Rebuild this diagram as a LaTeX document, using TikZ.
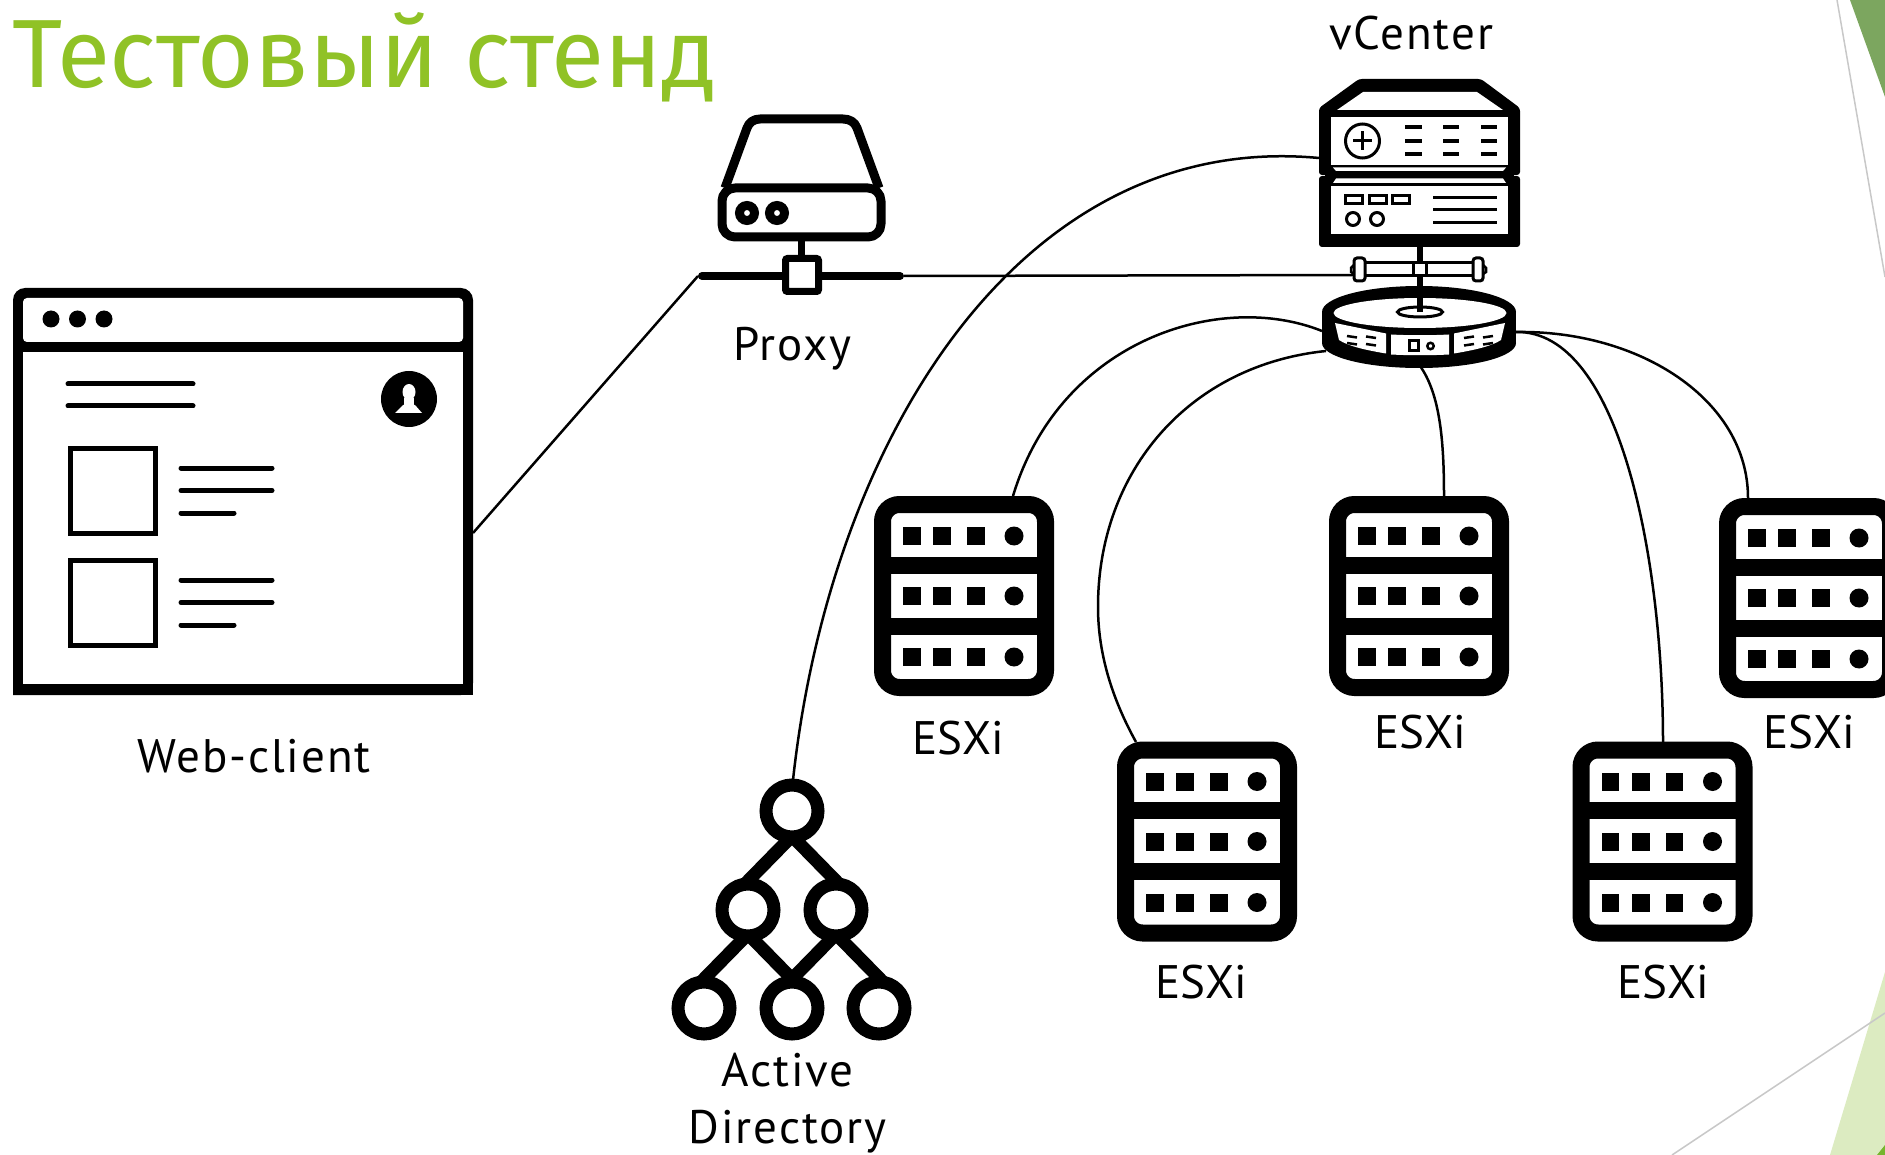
\documentclass[tikz,border=0pt]{standalone}
\usepackage{fontspec}
\setmainfont{PT Sans}
\newfontfamily\titlefont{Fira Sans}
\newfontfamily\spacedfont[LetterSpace=4]{PT Sans}
\definecolor{titlegreen}{HTML}{90C226}
\definecolor{darkgreen}{HTML}{7CA65F}
\definecolor{palegreen}{HTML}{DCEBC1}
\definecolor{cornergreen}{HTML}{76B52E}
\definecolor{rulegray}{HTML}{C8C8C8}
\tikzset{
  lbl/.style={inner sep=0pt,anchor=base,font=\fontsize{47}{47}\selectfont,text=black},
  slbl/.style={inner sep=0pt,anchor=base,font=\spacedfont\fontsize{47}{47}\selectfont,text=black},
  conn/.style={line width=2.5pt,black},
  heavy/.style={line width=10pt,black}
}
\newcommand{\esxi}[3]{%
  \begin{scope}[shift={(#1,#2)}]
    \coordinate (#3) at (0,0);
    \draw[line width=17pt,black,fill=white,rounded corners=17pt] (-81.5,-91.5) rectangle (81.5,91.5);
    \draw[line width=17pt] (-85,-31) -- (85,-31) (-85,30) -- (85,30);
    \foreach \yy in {-60,0,61}{
      \fill (-61,\yy-9) rectangle ++(17.5,18);
      \fill (-31,\yy-9) rectangle ++(18,18);
      \fill (3,\yy-9) rectangle ++(17.5,18);
      \fill (50,\yy) circle (9.5);
    }
  \end{scope}}
\begin{document}
\begin{tikzpicture}[x=1pt,y=-1pt]
\useasboundingbox (0,0) rectangle (1885,1155);
\clip (0,0) rectangle (1885,1155);
% slide decoration
\fill[palegreen] (1885,972) -- (1885,1155) -- (1830,1155) -- cycle;
\fill[cornergreen] (1885,1145) -- (1885,1155) -- (1877,1155) -- cycle;
\draw[rulegray,line width=1.5pt] (1672,1155) -- (1885,1013);
\fill[darkgreen] (1850,0) -- (1885,0) -- (1885,97) -- cycle;
\draw[rulegray,line width=1.5pt] (1837,0) -- (1885,277);
% title
\node[inner sep=0pt,anchor=base west,text=titlegreen,font=\titlefont\fontsize{97}{97}\selectfont,draw=none] (title) at (12,88) {Тестовый стенд};
% browser
\fill[rounded corners=12pt] (13,695) -- (13,288) -- (473,288) -- (473,695) [sharp corners] -- cycle;
\fill (13,600) rectangle (473,695);
\fill[white,rounded corners=4pt] (23,342) -- (23,298) -- (463,298) -- (463,342) -- cycle;
\fill[white] (23,352) rectangle (463,684);
\foreach \xx in {51,77.5,104} \fill (\xx,319) circle (8.5);
\draw[line width=5pt,line cap=round] (68,384) -- (193,384) (68,406) -- (193,406);
\fill (409,399) circle (28);
\fill[white] (409,392) ellipse (6.5 and 8);
\fill[white] (404,398) rectangle (414,406);
\fill[white] (395,413) -- (403,405) -- (415,405) -- (422,413) -- cycle;
\foreach \yy in {0,112}{
  \begin{scope}[yshift=-\yy pt]
    \draw[line width=5pt] (70,448.5) rectangle (155,533.5);
    \draw[line width=5pt,line cap=round] (181,468) -- (272,468) (181,490.5) -- (272,490.5) (181,513) -- (234,513);
  \end{scope}}
\coordinate (browserR) at (473,533);
% proxy
\draw[line width=9pt,rounded corners=13pt,line join=round] (722,188) -- (722,237) -- (881,237) -- (881,188) -- cycle;
\draw[line width=9pt,line join=round] (725,188) -- (747,128) to[out=70,in=180] (760,119) -- (843,119) to[out=0,in=110] (857,128) -- (879,188);
\draw[line width=9pt] (747,213) circle (7.5) (777,213) circle (7.5);
\draw[line width=7pt] (801,237) -- (801,258);
\draw[line width=8pt,line cap=round] (702,276) -- (900,276);
\draw[line width=7pt,fill=white,rounded corners=2pt] (785.5,258.5) rectangle (818.5,291.5);
\coordinate (barL) at (698,276);
\coordinate (barR) at (904,276);
% vCenter stack
\fill[rounded corners=3pt] (1319,108) -- (1359,79) -- (1481,79) -- (1520,108) -- (1520,175) -- (1319,175) -- cycle;
\fill[rounded corners=3pt] (1319,176) rectangle (1520,247);
\fill (1325,170) rectangle (1514,182);
\fill[white] (1337,110) -- (1363,92) -- (1477,92) -- (1503,110) -- cycle;
\fill[white] (1331,117) rectangle (1508,165);
\fill[white] (1333,167.5) -- (1506,167.5) -- (1503,171) -- (1336,171) -- cycle;
\fill[white] (1336,178.5) -- (1503,178.5) -- (1506,183) -- (1333,183) -- cycle;
\fill[white] (1331,186) rectangle (1508,234);
\draw[line width=3pt] (1362.5,141) circle (17);
\draw[line width=3pt] (1353,141) -- (1372,141) (1362.5,131.5) -- (1362.5,150.5);
\foreach \yy in {127,141,154}
  \draw[line width=3.5pt] (1405,\yy) -- (1422,\yy) (1443,\yy) -- (1459,\yy) (1481,\yy) -- (1497,\yy);
\draw[line width=3pt] (1345,196) rectangle (1362,204) (1369,196) rectangle (1386,204) (1392,196) rectangle (1409,204);
\draw[line width=3pt] (1353,219) circle (6.5) (1377,219) circle (6.5);
\draw[line width=3pt] (1433,198) -- (1497,198) (1433,210) -- (1497,210) (1433,223) -- (1497,223);
% stem and tube
\draw[line width=6pt] (1420,247) -- (1420,312);
\draw[line width=3pt,fill=white] (1363,263) rectangle (1475,276);
\draw[line width=3pt,fill=white,rounded corners=3pt] (1354,258) rectangle (1365,281);
\draw[line width=3pt,fill=white,rounded corners=3pt] (1473,258) rectangle (1483,281);
\draw[line width=2.5pt] (1354,265) -- (1351,268) -- (1351,272) -- (1354,274) (1483,265) -- (1486,268) -- (1486,272) -- (1483,274);
\draw[line width=3pt,fill=white] (1413.5,263) rectangle (1426,276);
% vCenter disk
\fill (1419,312) ellipse (97 and 26);
\fill (1419,343) ellipse (97 and 25);
\fill (1322,312) rectangle (1516,343);
\fill[white] (1420,313) ellipse (86.5 and 15);
\fill[white] (1335,323) -- (1386,333.5) -- (1386,353.5) .. controls (1365,350) and (1348,346) .. (1339,340) -- cycle;
\fill[white] (1391,334.5) .. controls (1410,335.5) and (1430,335.5) .. (1449,334.5) -- (1449,354.5) .. controls (1430,355.5) and (1410,355.5) .. (1391,354.5) -- cycle;
\fill[white] (1505,323) -- (1454,333.5) -- (1454,353.5) .. controls (1475,350) and (1492,346) .. (1501,340) -- cycle;
\draw[line width=3pt] (1420,312) ellipse (22.5 and 5);
\draw[line width=6pt] (1420,290) -- (1420,312);
\draw[line width=2.5pt] (1347,336) -- (1357,337.5) (1347,343) -- (1357,344.5) (1366,336.5) -- (1376,338) (1366,344) -- (1376,345.5);
\draw[line width=2.5pt] (1493,336) -- (1483,337.5) (1493,343) -- (1483,344.5) (1474,336.5) -- (1464,338) (1474,344) -- (1464,345.5);
\draw[line width=3pt] (1409.5,340.5) rectangle (1418.5,350.5);
\draw[line width=2.5pt] (1430.5,346) circle (3.2);
\coordinate (tubeL) at (1353,275);
\coordinate (vcL) at (1319,158);
\coordinate (diskA) at (1322,331);
\coordinate (diskB) at (1326,351);
\coordinate (diskC) at (1417,362);
\coordinate (diskD) at (1516,332);
% servers
\esxi{964}{596}{esxA}
\esxi{1207}{841.5}{esxB}
\esxi{1419}{596}{esxC}
\esxi{1662.5}{841.5}{esxD}
\esxi{1809}{598}{esxE}
\coordinate (esxAt) at (1013,496);
\coordinate (esxBt) at (1136,742);
\coordinate (esxCt) at (1444,496);
\coordinate (esxDt) at (1663,742);
\coordinate (esxEt) at (1748,498);
% AD tree
\draw[line width=13pt] (792,836) -- (745,884) (792,836) -- (839,884);
\draw[line width=13pt] (748,934) -- (701,982) (748,934) -- (795,982) (836,934) -- (789,982) (836,934) -- (883,982);
\draw[line width=13pt,fill=white] (792,811) circle (26);
\draw[line width=13pt,fill=white] (748,910) circle (26);
\draw[line width=13pt,fill=white] (836,910) circle (26);
\draw[line width=13pt,fill=white] (704,1008) circle (26);
\draw[line width=13pt,fill=white] (792,1008) circle (26);
\draw[line width=13pt,fill=white] (879,1008) circle (26);
\coordinate (adT) at (793,780);
% connectors
\draw[conn] (browserR) -- (barL);
\draw[conn] (barR) -- (tubeL);
\draw[conn] (adT) .. controls (830,440) and (1020,130) .. (vcL);
\draw[conn] (esxAt) .. controls (1060,340) and (1220,290) .. (diskA);
\draw[conn] (esxBt) .. controls (1110,695) and (1098,650) .. (1098,607) .. controls (1098,470) and (1190,365) .. (diskB);
\draw[conn] (diskC) .. controls (1440,390) and (1444,440) .. (esxCt);
\draw[conn] (diskD) .. controls (1620,330) and (1663,560) .. (esxDt);
\draw[conn] (diskD) .. controls (1640,330) and (1748,400) .. (esxEt);
% labels
\node[slbl] (lvc) at (1411,50) {vCenter};
\node[slbl] (lpx) at (792,361) {Proxy};
\node[slbl] (lwb) at (254,772) {Web-client};
\node[lbl] (l1) at (958,754) {ESXi};
\node[lbl] (l2) at (1201,998) {ESXi};
\node[lbl] (l3) at (1420,748) {ESXi};
\node[lbl] (l4) at (1663,998) {ESXi};
\node[lbl] (l5) at (1809,748) {ESXi};
\node[slbl] (la1) at (787.5,1086) {Active};
\node[slbl] (la2) at (787.5,1143) {Directory};
\end{tikzpicture}
\end{document}
